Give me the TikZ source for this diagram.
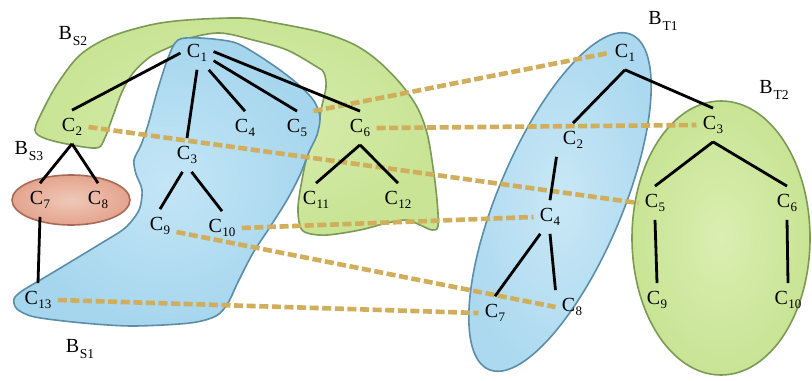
\documentclass[tikz,border=0pt]{standalone}
\usepackage{fontspec}
\setmainfont{Liberation Serif}
\newcommand\CC[1]{C\kern0.2pt\raisebox{-1.8pt}{\fontsize{6.5}{7}\selectfont #1}}
\newcommand\BB[1]{B\kern0.4pt\raisebox{-2.8pt}{\fontsize{6.8}{7}\selectfont #1}}
\definecolor{bluefill}{HTML}{A6D6EE}
\definecolor{bluein}{HTML}{C4E6F6}
\definecolor{blueline}{HTML}{5B8EA8}
\definecolor{greenfill}{HTML}{C8E494}
\definecolor{greenin}{HTML}{DAEEB2}
\definecolor{greenline}{HTML}{7A9A55}
\definecolor{redfill}{HTML}{E4A48E}
\definecolor{redin}{HTML}{F0C8B8}
\definecolor{redline}{HTML}{A86A58}
\definecolor{dashc}{HTML}{D0AE5C}
\tikzset{
  bluereg/.style={draw=blueline, line width=0.8pt, inner color=bluein, outer color=bluefill},
  greenreg/.style={draw=greenline, line width=0.8pt, inner color=greenin, outer color=greenfill},
  redreg/.style={draw=redline, line width=0.8pt, inner color=redin, outer color=redfill},
  cn/.style={inner xsep=3pt, inner ysep=4pt, font=\fontsize{10}{12}\selectfont},
  bl/.style={inner sep=1pt, font=\fontsize{10}{12}\selectfont},
  tedge/.style={draw=black, line width=1.4pt},
  mapline/.style={draw=dashc, line width=2.3pt, dash pattern=on 4.5pt off 1.8pt}
}
\begin{document}
\begin{tikzpicture}[x=0.5pt,y=-0.5pt]
\useasboundingbox (0,0) rectangle (812,380);
\fill[white] (0,0) rectangle (812,380);
% ---- regions, source side
\path[greenreg] plot[smooth cycle, tension=0.55] coordinates {
 (35,130) (43,110) (58,83) (80,55) (110,37) (150,25) (187,20) (240,18)
 (270,22) (320,32) (353,44) (377,60) (400,83) (417,107) (427,133) (433,167)
 (437,200) (438,226) (432,230) (420,225) (407,220) (387,223) (360,230)
 (327,235) (307,233) (300,226) (298,207) (302,180) (308,153) (317,133)
 (321,110) (326,87) (324,73) (317,67) (287,50) (253,40) (220,33) (190,38)
 (170,47) (150,57) (133,73) (122,92) (113,116) (104,140) (96,148) (67,144) (44,138)};
\path[bluereg] plot[smooth cycle, tension=0.5] coordinates {
 (178,40) (200,38) (233,42) (253,52) (280,70) (300,86) (314,101) (320,117)
 (317,135) (309,152) (300,175) (287,200) (270,227) (253,253) (238,282)
 (228,303) (216,316) (190,323) (133,326) (83,323) (35,317) (17,309) (14,299)
 (22,291) (42,279) (67,264) (100,244) (125,228) (139,210) (142,190) (136,174)
 (134,160) (141,145) (148,125) (157,92) (168,58)};
\path[redreg] (71,200) ellipse [x radius=59, y radius=25];
% ---- regions, target side
\path[greenreg] (721,238) ellipse [x radius=89, y radius=137];
\path[bluereg, rotate around={67:(560,202)}, fill opacity=0.92] (560,202) ellipse [x radius=182, y radius=62];
% ---- labels
\node[bl] (bs2) at (73,36) {\BB{S2}};
\node[bl] (bs3) at (29,151) {\BB{S3}};
\node[bl] (bs1) at (80,349) {\BB{S1}};
\node[bl] (bt1) at (663,21) {\BB{T1}};
\node[bl] (bt2) at (774,90) {\BB{T2}};
% ---- source tree nodes
\node[cn] (s1) at (197,53) {\CC{1}};
\node[cn] (s2) at (72,127) {\CC{2}};
\node[cn] (s3) at (187,155) {\CC{3}};
\node[cn] (s4) at (245,128) {\CC{4}};
\node[cn] (s5) at (297,128) {\CC{5}};
\node[cn] (s6) at (360,128) {\CC{6}};
\node[cn] (s7) at (40,200) {\CC{7}};
\node[cn] (s8) at (98,200) {\CC{8}};
\node[cn] (s9) at (160,226) {\CC{9}};
\node[cn] (s10) at (222,228) {\CC{10}};
\node[cn] (s11) at (316,200) {\CC{11}};
\node[cn] (s12) at (398,200) {\CC{12}};
\node[cn] (s13) at (38,300) {\CC{13}};
% ---- target tree nodes
\node[cn] (t1) at (625,53) {\CC{1}};
\node[cn] (t2) at (573,140) {\CC{2}};
\node[cn] (t3) at (713,125) {\CC{3}};
\node[cn] (t4) at (550,217) {\CC{4}};
\node[cn] (t5) at (655,203) {\CC{5}};
\node[cn] (t6) at (787,203) {\CC{6}};
\node[cn] (t7) at (495,313) {\CC{7}};
\node[cn] (t8) at (572,307) {\CC{8}};
\node[cn] (t9) at (657,300) {\CC{9}};
\node[cn] (t10) at (788,300) {\CC{10}};
% ---- mappings
\draw[mapline] (s5.north east) -- (t1.west);
\draw[mapline] (s6.east) -- (t3.west);
\draw[mapline] (s2.east) -- (t5.west);
\draw[mapline] (s10.east) -- (t4.west);
\draw[mapline] (s9.-20) -- (t8.west);
\draw[mapline] (s13.east) -- (t7.west);
% ---- source tree edges
\draw[tedge] (s1.west) -- (s2.north);
\draw[tedge] (s1.south) -- (s3.north);
\draw[tedge] (s1.-55) -- (s4.north);
\draw[tedge] (s1.-25) -- (s5.north);
\draw[tedge] (s1.5) -- (s6.north);
\draw[tedge] (s2.south) -- (s7.north);
\draw[tedge] (s2.south) -- (s8.north);
\draw[tedge] (s3.-105) -- (s9.north);
\draw[tedge] (s3.-75) -- (s10.north);
\draw[tedge] (s6.south) -- (s11.north);
\draw[tedge] (s6.south) -- (s12.north);
\draw[tedge] (s7.south) -- (s13.north);
% ---- target tree edges
\draw[tedge] (t1.south) -- (t2.north);
\draw[tedge] (t1.south) -- (t3.north);
\draw[tedge] (t2.south west) -- (t4.north);
\draw[tedge] (t4.-120) -- (t7.north);
\draw[tedge] (t4.south) -- (t8.north west);
\draw[tedge] (t3.south) -- (t5.north);
\draw[tedge] (t3.south) -- (t6.north);
\draw[tedge] (t5.south) -- (t9.north);
\draw[tedge] (t6.south) -- (t10.north);
\end{tikzpicture}
\end{document}
